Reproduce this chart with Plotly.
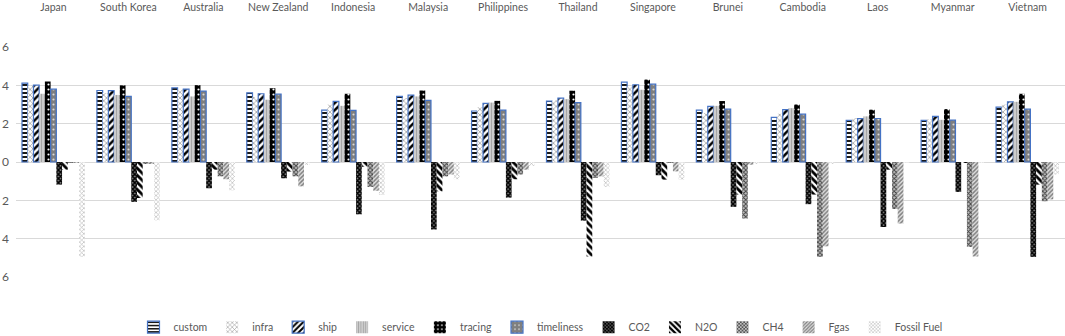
import plotly.graph_objects as go

countries = ["Japan", "South Korea", "Australia", "New Zealand", "Indonesia", "Malaysia",
             "Philippines", "Thailand", "Singapore", "Brunei", "Cambodia", "Laos", "Myanmar", "Vietnam"]

custom     = [4.11, 3.73, 3.87, 3.61, 2.71, 3.42, 2.66, 3.18, 4.17, 2.71, 2.33, 2.17, 2.17, 2.86]
infra      = [3.98, 3.60, 3.77, 3.39, 3.00, 3.33, 2.86, 3.21, 3.94, 2.55, 2.52, 2.29, 2.24, 3.00]
ship       = [4.01, 3.72, 3.80, 3.56, 3.16, 3.49, 3.06, 3.33, 4.03, 2.90, 2.73, 2.26, 2.38, 3.14]
service    = [3.56, 3.50, 3.42, 3.25, 2.93, 3.42, 3.10, 3.28, 3.77, 2.93, 2.81, 2.38, 2.20, 3.14]
tracing    = [4.20, 4.00, 4.01, 3.85, 3.56, 3.73, 3.19, 3.72, 4.30, 3.18, 3.00, 2.73, 2.76, 3.56]
timeliness = [3.80, 3.42, 3.70, 3.54, 2.69, 3.21, 2.71, 3.10, 4.06, 2.76, 2.50, 2.27, 2.19, 2.76]
co2        = [-1.18, -2.08, -1.37, -0.85, -2.73, -3.52, -1.86, -3.06, -0.69, -2.34, -2.20, -3.39, -1.56, -4.95]
n2o        = [-0.40, -1.88, -0.40, -0.50, -0.25, -1.53, -0.90, -4.93, -0.92, -1.70, -1.70, -0.40, -0.05, -1.18]
ch4        = [-0.05, -0.10, -0.75, -0.75, -1.30, -0.75, -0.65, -0.83, -0.05, -2.95, -4.95, -2.45, -4.43, -2.05]
fgas       = [-0.05, -0.10, -0.90, -1.27, -1.50, -0.65, -0.40, -0.75, -0.49, -0.14, -4.40, -3.21, -4.93, -1.95]
fossil     = [-4.95, -3.04, -1.48, -0.15, -1.72, -0.90, -0.20, -1.30, -0.92, -0.08, -0.10, -0.05, -0.05, -0.65]

ytick_vals = [-6, -4, -2, 0, 2, 4, 6]
ytick_text = ["6", "4", "2", "0", "2", "4", "6"]

BLUE = "#4472C4"
series = [
    ("custom", custom, dict(shape="-", fgcolor="black", bgcolor="white", size=4, solidity=0.45), BLUE),
    ("infra", infra, dict(shape="x", fgcolor="#8c8c8c", bgcolor="white", size=4, solidity=0.3), None),
    ("ship", ship, dict(shape="/", fgcolor="black", bgcolor="white", size=5, solidity=0.5), BLUE),
    ("service", service, dict(shape="|", fgcolor="#a6a6a6", bgcolor="#d9d9d9", size=3, solidity=0.5), None),
    ("tracing", tracing, dict(shape=".", fgcolor="white", bgcolor="black", size=5, solidity=0.15), None),
    ("timeliness", timeliness, dict(shape=".", fgcolor="#d9d9d9", bgcolor="#7f7f7f", size=5, solidity=0.15), BLUE),
    ("CO2", co2, dict(shape="x", fgcolor="black", bgcolor="#7f7f7f", size=3, solidity=0.7), None),
    ("N2O", n2o, dict(shape="\\", fgcolor="black", bgcolor="white", size=5, solidity=0.55), None),
    ("CH4", ch4, dict(shape="x", fgcolor="#404040", bgcolor="#bfbfbf", size=3, solidity=0.5), None),
    ("Fgas", fgas, dict(shape="/", fgcolor="#7f7f7f", bgcolor="#e0e0e0", size=3, solidity=0.5), None),
    ("Fossil Fuel", fossil, dict(shape="x", fgcolor="#b0b0b0", bgcolor="white", size=3, solidity=0.35), None),
]

fig = go.Figure()
for name, vals, pat, line_col in series:
    fig.add_trace(go.Bar(
        name=name, x=countries, y=vals,
        marker=dict(color=pat["bgcolor"], pattern=dict(**pat, fillmode="replace"),
                    line=dict(color=line_col if line_col else "rgba(0,0,0,0)", width=1.2 if line_col else 0)),
    ))

fig.update_layout(
    width=1065, height=336,
    margin=dict(l=16, r=0, t=47, b=59, autoexpand=False),
    barmode="group", bargap=0.16, bargroupgap=0,
    plot_bgcolor="white", paper_bgcolor="white",
    font=dict(family="Lato, Open Sans, sans-serif", color="#595959", size=11),
    legend=dict(orientation="h", x=0.5, xanchor="center", y=-0.155, yanchor="top",
                font=dict(size=10.5, color="#595959"), itemwidth=30, tracegroupgap=0,
                traceorder="normal"),
    xaxis=dict(side="top", showgrid=False, showline=False, ticks="", automargin=False,
               ticklabelstandoff=33, tickfont=dict(size=10.5, color="#595959")),
    yaxis=dict(range=[-6, 6], tickvals=ytick_vals, ticktext=ytick_text, automargin=False,
               showgrid=True, gridcolor="#d9d9d9", gridwidth=1,
               zeroline=True, zerolinecolor="#d9d9d9", zerolinewidth=1,
               tickfont=dict(size=12, color="#595959"), ticks="", ticklabelstandoff=6),
)

fig.write_html("out.html", config={"displayModeBar": False},
               post_script="document.body.style.margin='0';document.body.style.overflow='hidden';")
